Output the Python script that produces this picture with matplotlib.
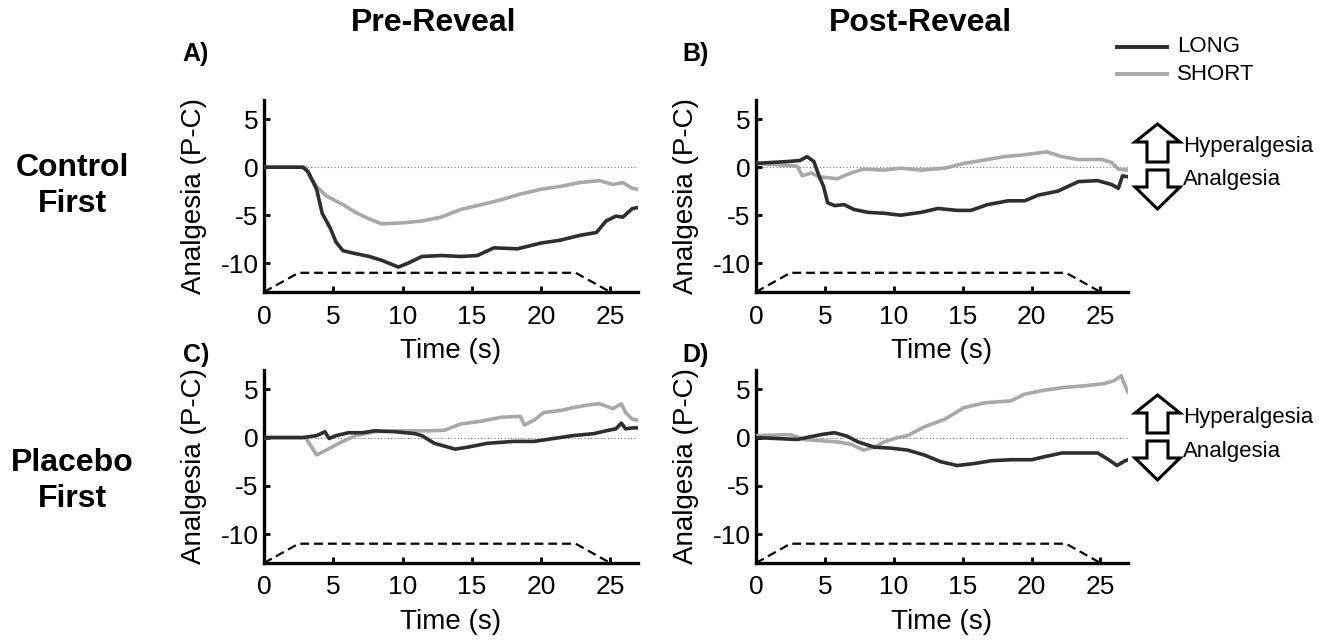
import matplotlib
matplotlib.use("Agg")
import matplotlib.pyplot as plt
from matplotlib.patches import Polygon
from matplotlib.lines import Line2D

plt.rcParams['font.family'] = ['Liberation Sans', 'DejaVu Sans']
plt.rcParams['axes.unicode_minus'] = False

# ---------------- data ----------------
stim_t = [0, 2.5, 22.5, 25.0]
stim_v = [-13, -11, -11, -13]

A_long_t = [0, 2.8, 3.2, 3.8, 4.2, 4.8, 5.2, 5.7, 6.6, 7.6, 8.5, 9.7, 10.4, 11.4, 12.8, 14.2,
            15.4, 16.6, 18.3, 20.0, 21.4, 22.8, 24.0, 24.7, 25.4, 25.9, 26.6, 27.0]
A_long_v = [0, 0, -0.5, -2.3, -4.8, -6.4, -7.8, -8.7, -9.0, -9.3, -9.7, -10.4, -10.0, -9.3, -9.2, -9.3,
            -9.2, -8.4, -8.5, -7.9, -7.6, -7.1, -6.8, -5.6, -5.1, -5.2, -4.3, -4.2]
A_short_t = [0, 3.0, 3.3, 3.8, 4.5, 5.7, 6.6, 7.6, 8.5, 10.0, 11.4, 12.8, 14.2, 15.7, 17.1,
             18.5, 20.0, 21.4, 22.8, 24.2, 25.2, 25.9, 26.6, 27.0]
A_short_v = [0, 0, -1.0, -2.0, -3.0, -3.9, -4.7, -5.4, -5.9, -5.8, -5.6, -5.2, -4.4, -3.9, -3.4,
             -2.8, -2.3, -2.0, -1.6, -1.4, -1.8, -1.6, -2.2, -2.3]

B_long_t = [0, 2.4, 3.2, 3.7, 4.2, 4.6, 4.9, 5.2, 5.7, 6.4, 7.1, 8.1, 9.3, 10.5, 12.0, 13.2,
            14.6, 15.6, 16.8, 18.3, 19.5, 20.5, 21.9, 23.4, 24.8, 25.8, 26.3, 26.6, 27.0]
B_long_v = [0.4, 0.6, 0.7, 1.1, 0.6, -1.0, -2.0, -3.7, -4.0, -3.9, -4.4, -4.7, -4.8, -5.0, -4.7, -4.3,
            -4.5, -4.5, -3.9, -3.5, -3.5, -2.9, -2.5, -1.5, -1.4, -1.8, -2.2, -0.9, -1.0]
B_short_t = [0, 3.0, 3.35, 4.0, 4.6, 5.9, 6.9, 7.8, 9.3, 10.5, 12.0, 13.7, 15.1, 16.6, 18.0,
             19.5, 21.1, 22.2, 23.4, 25.1, 25.8, 26.3, 27.0]
B_short_v = [0.4, 0.1, -0.9, -0.6, -1.0, -1.2, -0.6, -0.2, -0.3, -0.1, -0.3, -0.1, 0.4, 0.75, 1.1,
             1.3, 1.6, 1.1, 0.8, 0.8, 0.5, -0.2, -0.3]

C_long_t = [0, 2.8, 3.8, 4.4, 4.7, 5.2, 6.1, 7.1, 8.0, 9.5, 10.9, 11.4, 12.3, 13.8, 14.7,
            16.1, 18.0, 19.5, 20.9, 22.3, 23.8, 24.7, 25.4, 25.8, 26.1, 26.6, 27.0]
C_long_v = [0, 0, 0.2, 0.6, -0.1, 0.2, 0.5, 0.5, 0.7, 0.6, 0.4, 0.2, -0.6, -1.2, -1.0,
            -0.6, -0.4, -0.4, -0.1, 0.2, 0.4, 0.7, 0.9, 1.5, 0.9, 1.0, 1.0]
C_short_t = [0, 3.0, 3.8, 4.5, 5.4, 6.6, 8.0, 10.0, 11.9, 13.0, 14.2, 15.7, 17.1, 18.5, 18.8,
             19.5, 20.2, 21.4, 22.3, 23.5, 24.2, 25.2, 25.8, 26.1, 26.6, 27.0]
C_short_v = [0, 0, -1.8, -1.3, -0.6, 0.2, 0.6, 0.7, 0.7, 0.75, 1.4, 1.7, 2.1, 2.2, 1.3,
             1.8, 2.6, 2.8, 3.1, 3.4, 3.5, 3.0, 3.5, 2.6, 1.9, 1.8]

D_long_t = [0, 3.0, 4.0, 4.9, 5.7, 6.6, 7.4, 8.6, 9.8, 11.0, 12.2, 13.4, 14.6, 15.8, 17.1,
            18.5, 20.0, 20.9, 22.2, 23.4, 24.8, 25.6, 26.2, 26.8, 27.0]
D_long_v = [0, -0.2, 0.1, 0.35, 0.5, 0.15, -0.45, -1.0, -1.1, -1.3, -1.8, -2.5, -2.9, -2.7, -2.4,
            -2.3, -2.3, -2.0, -1.6, -1.6, -1.6, -2.3, -2.9, -2.4, -2.3]
D_short_t = [0, 2.5, 3.5, 4.4, 5.9, 6.9, 7.8, 8.6, 9.3, 10.3, 11.0, 12.2, 13.7, 15.1, 16.6,
             18.5, 19.5, 20.9, 22.4, 23.8, 25.3, 26.0, 26.5, 26.9, 27.0]
D_short_v = [0.2, 0.3, -0.2, -0.3, -0.45, -0.7, -1.3, -1.0, -0.45, 0, 0.2, 1.1, 1.9, 3.1, 3.6,
             3.8, 4.5, 4.9, 5.2, 5.35, 5.6, 5.9, 6.4, 5.0, 4.7]

series_labels = ["LONG", "SHORT"]
col_titles = ["Pre-Reveal", "Post-Reveal"]
row_titles = ["Control\nFirst", "Placebo\nFirst"]
panel_letters = ["A)", "B)", "C)", "D)"]
x_ticks = [0, 5, 10, 15, 20, 25]
y_ticks = [-10, -5, 0, 5]

LONG_C = '#2e2e2e'
SHORT_C = '#a8a8a8'

W, H = 1335, 643
fig = plt.figure(figsize=(W / 100, H / 100), dpi=100)

def fx(px):
    return px / W

def fy(py):
    return 1 - py / H

# axes boxes in pixels: (left, right, top, bottom)
boxes = [(264, 638, 100, 292), (756, 1128, 100, 292),
         (264, 638, 370, 563), (756, 1128, 370, 563)]
panels = [(A_long_t, A_long_v, A_short_t, A_short_v),
          (B_long_t, B_long_v, B_short_t, B_short_v),
          (C_long_t, C_long_v, C_short_t, C_short_v),
          (D_long_t, D_long_v, D_short_t, D_short_v)]

for (l, r, t, b), (lt, lv, st, sv) in zip(boxes, panels):
    ax = fig.add_axes([fx(l), fy(b), fx(r - l), (b - t) / H])
    ax.set_xlim(0, 27)
    ax.set_ylim(-13, 7)
    ax.axhline(0, color='#777777', lw=0.8, ls=(0, (1, 2)), zorder=1)
    ax.plot(stim_t, stim_v, color='black', lw=1.6, dashes=(4, 2.2), zorder=2, clip_on=False)
    ax.plot(st, sv, color=SHORT_C, lw=2.6, zorder=3)
    ax.plot(lt, lv, color=LONG_C, lw=2.6, zorder=4)
    for s in ['top', 'right']:
        ax.spines[s].set_visible(False)
    for s in ['left', 'bottom']:
        ax.spines[s].set_linewidth(2.4)
    ax.set_xticks(x_ticks)
    ax.set_yticks(y_ticks)
    ax.tick_params(direction='in', length=4, width=2, labelsize=19)
    ax.tick_params(axis='x', pad=9)
    ax.tick_params(axis='y', pad=4)
    ax.set_xlabel("Time (s)", fontsize=20, labelpad=7)
    ax.set_ylabel("Analgesia (P-C)", fontsize=20, labelpad=10)

# column titles
fig.text(fx(434), fy(23), col_titles[0], ha='center', va='center', fontsize=23, fontweight='bold')
fig.text(fx(920), fy(23), col_titles[1], ha='center', va='center', fontsize=23, fontweight='bold')
# row titles
fig.text(fx(72), fy(186), row_titles[0], ha='center', va='center', fontsize=23,
         fontweight='bold', linespacing=1.3)
fig.text(fx(72), fy(481), row_titles[1], ha='center', va='center', fontsize=23,
         fontweight='bold', linespacing=1.3)
# panel letters
for (px, py), lab in zip([(196, 54), (696, 54), (196, 355), (696, 355)], panel_letters):
    fig.text(fx(px), fy(py), lab, ha='center', va='center', fontsize=18, fontweight='bold')

# legend
for yy, lab, c in [(47, series_labels[0], LONG_C), (74, series_labels[1], SHORT_C)]:
    fig.lines.append(Line2D([fx(1117), fx(1167)], [fy(yy), fy(yy)], color=c, lw=2.8,
                            transform=fig.transFigure))
    fig.text(fx(1177), fy(yy), lab, ha='left', va='center', fontsize=16)

# hyperalgesia / analgesia arrows
def arrows(dy):
    up = [(1157.5, 395), (1180, 413), (1168, 413), (1168, 433), (1147, 433), (1147, 413), (1135, 413)]
    dn = [(1147, 441), (1168, 441), (1168, 458), (1180, 458), (1157.5, 480), (1135, 458), (1147, 458)]
    for pts in (up, dn):
        poly = Polygon([(fx(x), fy(y + dy)) for x, y in pts], closed=True, facecolor='white',
                       edgecolor='black', lw=2.2, transform=fig.transFigure, joinstyle='miter')
        fig.patches.append(poly)
    fig.text(fx(1183), fy(418 + dy), "Hyperalgesia", ha='left', va='center', fontsize=16)
    fig.text(fx(1183), fy(451 + dy), "Analgesia", ha='left', va='center', fontsize=16)

arrows(-271)
arrows(0)

fig.savefig("out.png", dpi=100)
